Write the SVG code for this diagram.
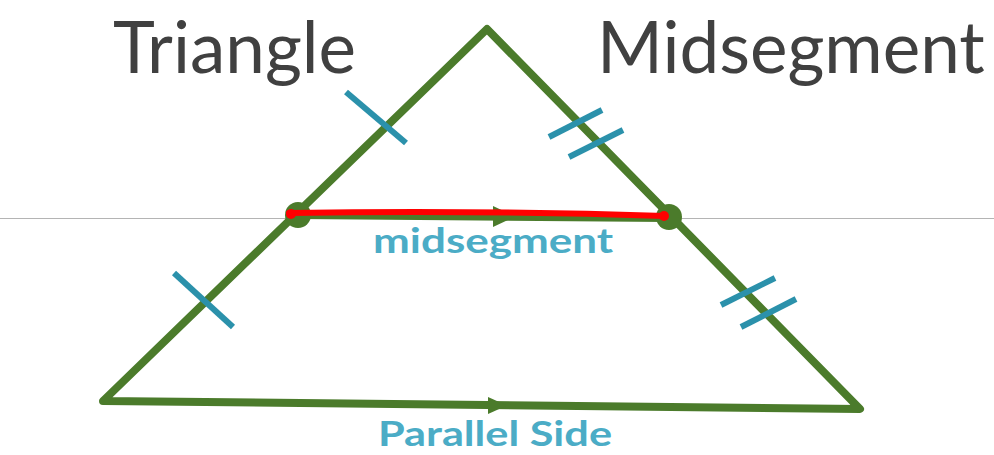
<svg xmlns="http://www.w3.org/2000/svg" width="994" height="455" viewBox="0 0 994 455">
<style>
.title{font-family:Lato,"Open Sans","Liberation Sans",sans-serif;font-size:71px;fill:#404040}
.lbl{font-family:Lato,"Open Sans","Liberation Sans",sans-serif;font-size:35px;font-weight:bold;fill:#4bacc6}
.side{fill:none;stroke:#4b7b2b;stroke-width:8;stroke-linejoin:round;stroke-linecap:round}
.tick{stroke:#2b91ab;stroke-width:6;stroke-linecap:butt}
.arrow{fill:#4b7b2b}
</style>
<rect width="994" height="455" fill="#ffffff"/>
<line id="guide" x1="0" y1="218.5" x2="994" y2="218.5" stroke="#b4b4b4" stroke-width="1"/>
<g id="triangle">
<polygon class="side" points="487,29 860,409 103,401"/>
<line class="side" x1="298" y1="215" x2="668" y2="218"/>
<polygon class="arrow" points="493,206 515,216.5 493,227"/>
<polygon class="arrow" points="488,397 507,405.5 488,414"/>
<circle cx="298" cy="215" r="13" fill="#4b7b2b"/>
<circle cx="669" cy="217" r="13" fill="#4b7b2b"/>
</g>
<g id="ticks">
<line class="tick" x1="346" y1="92" x2="406" y2="143"/>
<line class="tick" x1="174" y1="273" x2="233" y2="327"/>
<line class="tick" x1="549" y1="137" x2="602" y2="110"/>
<line class="tick" x1="569" y1="157" x2="623" y2="130"/>
<line class="tick" x1="721" y1="305" x2="775" y2="278"/>
<line class="tick" x1="741" y1="327" x2="796" y2="299"/>
</g>
<path id="midsegment-red" d="M289,213 Q480,210 665,216" fill="none" stroke="#ff0000" stroke-width="6" stroke-linecap="round"/>
<circle cx="291" cy="214" r="5" fill="#ff0000"/>
<circle cx="664" cy="216" r="5" fill="#ff0000"/>
<text class="title" x="113" y="73">Triangle</text>
<text class="title" x="597" y="73">Midsegment</text>
<text class="lbl" x="373" y="253" textLength="240" lengthAdjust="spacingAndGlyphs">midsegment</text>
<text class="lbl" x="378" y="446" textLength="234" lengthAdjust="spacingAndGlyphs">Parallel Side</text>
</svg>
